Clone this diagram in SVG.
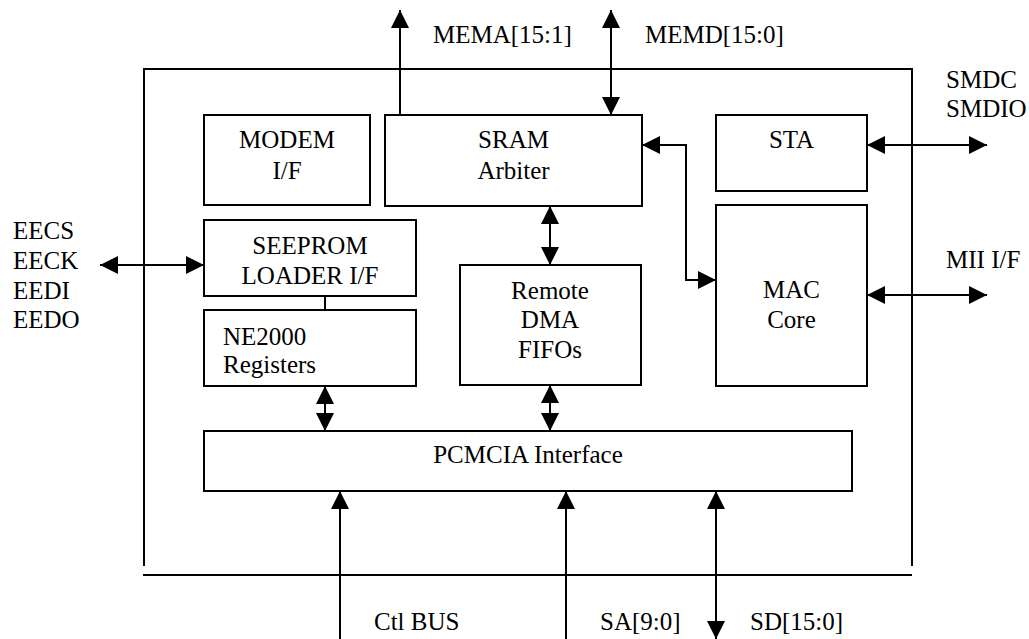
<svg xmlns="http://www.w3.org/2000/svg" width="1029" height="639" viewBox="0 0 1029 639">
<style>
.b{fill:none;stroke:#000;stroke-width:2}
.c{fill:none;stroke:#000;stroke-width:2}
text{font-family:"Liberation Serif","Times New Roman",serif;font-size:25px;fill:#000}
.m{text-anchor:middle}
</style>
<defs>
<marker id="ah" markerUnits="userSpaceOnUse" markerWidth="18" markerHeight="18" refX="18" refY="9" orient="auto-start-reverse" viewBox="0 0 18 18">
<path d="M0,0 L18,9 L0,18 z" fill="#000"/>
</marker>
</defs>
<rect width="1029" height="639" fill="#fff"/>
<g id="chip">
<path class="b" d="M144,566 V69 H912 V566"/>
<path class="b" d="M143,575 H912"/>
</g>
<g id="modem"><rect class="b" x="204" y="115" width="166" height="90"/><text class="m" x="287" y="148">MODEM</text><text class="m" x="287" y="179">I/F</text></g>
<g id="sram"><rect class="b" x="385" y="115" width="257" height="91"/><text class="m" x="513.5" y="148">SRAM</text><text class="m" x="513.5" y="179">Arbiter</text></g>
<g id="sta"><rect class="b" x="716" y="115" width="151" height="76"/><text class="m" x="791.5" y="148">STA</text></g>
<g id="seeprom"><rect class="b" x="204" y="220" width="212" height="76"/><text class="m" x="310" y="254">SEEPROM</text><text class="m" x="310" y="284">LOADER I/F</text></g>
<g id="ne2000"><rect class="b" x="204" y="310" width="212" height="76"/><text x="223" y="345">NE2000</text><text x="223" y="373">Registers</text></g>
<g id="remote"><rect class="b" x="460" y="265" width="181" height="120"/><text class="m" x="550" y="299">Remote</text><text class="m" x="550" y="328">DMA</text><text class="m" x="550" y="358">FIFOs</text></g>
<g id="mac"><rect class="b" x="716" y="205" width="151" height="181"/><text class="m" x="791.5" y="298">MAC</text><text class="m" x="791.5" y="328">Core</text></g>
<g id="pcmcia"><rect class="b" x="204" y="431" width="648" height="60"/><text class="m" x="528" y="463">PCMCIA Interface</text></g>
<g id="labels">
<text x="433" y="43">MEMA[15:1]</text>
<text x="645" y="43">MEMD[15:0]</text>
<text x="946" y="88">SMDC</text>
<text x="946" y="117">SMDIO</text>
<text x="946" y="268">MII I/F</text>
<text x="13" y="239">EECS</text>
<text x="13" y="269">EECK</text>
<text x="13" y="299">EEDI</text>
<text x="13" y="328">EEDO</text>
<text x="374" y="630">Ctl BUS</text>
<text x="600" y="630">SA[9:0]</text>
<text x="750" y="630">SD[15:0]</text>
</g>
<g id="connectors">
<path class="c" d="M400,115 V10" marker-end="url(#ah)"/>
<path class="c" d="M611,10 V115" marker-start="url(#ah)" marker-end="url(#ah)"/>
<path class="c" d="M642,145 H686 V280 H716" marker-start="url(#ah)" marker-end="url(#ah)"/>
<path class="c" d="M867,145 H987" marker-start="url(#ah)" marker-end="url(#ah)"/>
<path class="c" d="M867,295 H987" marker-start="url(#ah)" marker-end="url(#ah)"/>
<path class="c" d="M100,265 H204" marker-start="url(#ah)" marker-end="url(#ah)"/>
<path class="c" d="M325,296 V310"/>
<path class="c" d="M550,206 V265" marker-start="url(#ah)" marker-end="url(#ah)"/>
<path class="c" d="M325,386 V431" marker-start="url(#ah)" marker-end="url(#ah)"/>
<path class="c" d="M550,385 V431" marker-start="url(#ah)" marker-end="url(#ah)"/>
<path class="c" d="M340,639 V491" marker-end="url(#ah)"/>
<path class="c" d="M566,639 V491" marker-end="url(#ah)"/>
<path class="c" d="M716,491 V639" marker-start="url(#ah)" marker-end="url(#ah)"/>
</g>
</svg>
